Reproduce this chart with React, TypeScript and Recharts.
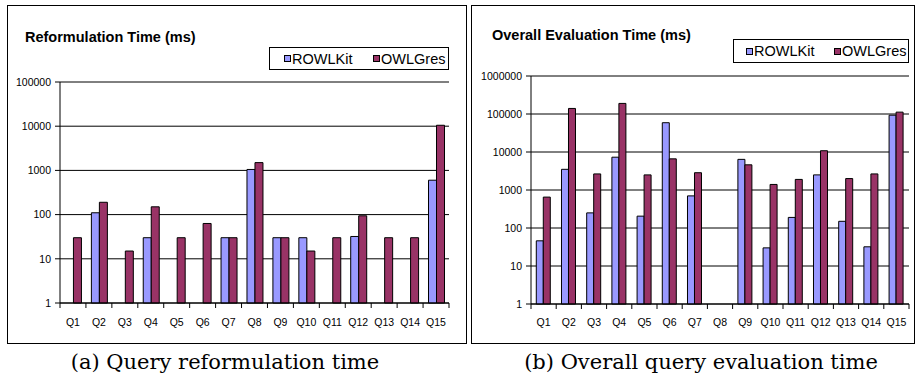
import React from 'react';
import { BarChart, Bar, XAxis, YAxis, CartesianGrid } from 'recharts';

const queries = ['Q1', 'Q2', 'Q3', 'Q4', 'Q5', 'Q6', 'Q7', 'Q8', 'Q9', 'Q10', 'Q11', 'Q12', 'Q13', 'Q14', 'Q15'];

// reformulation time (ms), null = no bar
const reformRowlkit = [null, 110, null, 30, null, null, 30, 1050, 30, 30, null, 32, null, null, 600];
const reformOwlgres = [30, 190, 15, 150, 30, 63, 30, 1500, 30, 15, 30, 94, 30, 30, 10500];

// overall evaluation time (ms)
const evalRowlkit = [46, 3500, 250, 7300, 205, 59000, 700, null, 6400, 30, 190, 2500, 150, 32, 93000];
const evalOwlgres = [650, 140000, 2650, 190000, 2500, 6600, 2850, null, 4600, 1400, 1900, 10800, 2000, 2650, 112000];

const reformTicks = [1, 10, 100, 1000, 10000, 100000];
const evalTicks = [1, 10, 100, 1000, 10000, 100000, 1000000];

const series = [
  { key: 'rowlkit', name: 'ROWLKit', color: '#9999FF' },
  { key: 'owlgres', name: 'OWLGres', color: '#993366' },
];

const toRows = (a: (number | null)[], b: (number | null)[]) =>
  queries.map((q, i) => ({ q, rowlkit: a[i], owlgres: b[i] }));

const FONT = '"Liberation Sans", Arial, sans-serif';

const QTick = (props: any) => {
  const { x, y, payload, index, band, gap } = props;
  const last = index === queries.length - 1;
  return (
    <g>
      <line x1={x - band / 2} x2={x - band / 2} y1={y} y2={y + 5} stroke="#000" />
      {last && <line x1={x + band / 2} x2={x + band / 2} y1={y} y2={y + 5} stroke="#000" />}
      <text x={x} y={y + gap} textAnchor="middle" fontSize={10.5} fontFamily={FONT} fill="#000">
        {payload.value}
      </text>
    </g>
  );
};

const LegendBox = ({ left, top, width, height, slots }: any) => (
  <div style={{ position: 'absolute', left, top, width, height, border: '1px solid #000', boxSizing: 'border-box', background: '#fff' }}>
    {series.map((s, i) => (
      <div key={s.key} style={{ position: 'absolute', left: slots[i], top: 0, height: height - 2, display: 'flex', alignItems: 'center' }}>
        <span style={{ width: 7, height: 7, background: s.color, border: '1px solid #000', boxSizing: 'border-box', marginRight: 1 }} />
        <span style={{ fontFamily: FONT, fontSize: 14.5, color: '#000', lineHeight: '16px' }}>{s.name}</span>
      </div>
    ))}
  </div>
);

const LogBars = ({ data, ticks, left, top, width, height, margin, yWidth, gap }: any) => {
  const band = (width - margin.left - margin.right - yWidth) / queries.length;
  return (
    <div style={{ position: 'absolute', left, top }}>
      <BarChart width={width} height={height} data={data} margin={margin} barCategoryGap="21%" barGap={0}>
        <CartesianGrid vertical={false} stroke="#000" />
        <XAxis
          dataKey="q"
          height={30}
          tickSize={0}
          tickMargin={0}
          tickLine={false}
          axisLine={{ stroke: '#000' }}
          interval={0}
          tick={(p: any) => <QTick {...p} band={band} gap={gap} />}
        />
        <YAxis
          scale="log"
          domain={[ticks[0], ticks[ticks.length - 1]]}
          ticks={ticks}
          interval={0}
          width={yWidth}
          tickSize={5}
          tickMargin={4}
          axisLine={{ stroke: '#000' }}
          tickLine={{ stroke: '#000' }}
          tick={{ fontSize: 10.5, fontFamily: FONT, fill: '#000' }}
        />
        <YAxis yAxisId="edge" orientation="right" width={0} domain={[0, 1]} tick={false} tickLine={false} axisLine={{ stroke: '#909090' }} />
        {series.map((s) => (
          <Bar key={s.key} dataKey={s.key} name={s.name} fill={s.color} stroke="#000" strokeWidth={1} isAnimationActive={false} />
        ))}
      </BarChart>
    </div>
  );
};

const panel: React.CSSProperties = { position: 'absolute', top: 5, height: 339, border: '1px solid #000', boxSizing: 'border-box' };
const title: React.CSSProperties = { position: 'absolute', fontFamily: FONT, fontSize: 14.5, fontWeight: 'bold', color: '#000', lineHeight: '16px', whiteSpace: 'nowrap' };
const caption: React.CSSProperties = { position: 'absolute', top: 349, width: 440, textAlign: 'center', fontFamily: '"DejaVu Serif", serif', fontSize: 21, lineHeight: '26px', color: '#000', whiteSpace: 'nowrap' };

export default function App() {
  return (
    <div style={{ position: 'absolute', left: 0, top: 0, width: 919, height: 381, background: '#fff', overflow: 'hidden' }}>
      <div style={{ ...panel, left: 7, width: 460 }} />
      <div style={{ ...panel, left: 471, width: 444 }} />

      <div style={{ ...title, left: 25, top: 29 }}>Reformulation Time (ms)</div>
      <div style={{ ...title, left: 492, top: 27 }}>Overall Evaluation Time (ms)</div>

      <LogBars
        data={toRows(reformRowlkit, reformOwlgres)}
        ticks={reformTicks}
        left={0}
        top={60}
        width={460}
        height={290}
        margin={{ top: 22, right: 11, bottom: 17, left: 10 }}
        yWidth={50}
        gap={23}
      />
      <LogBars
        data={toRows(evalRowlkit, evalOwlgres)}
        ticks={evalTicks}
        left={460}
        top={60}
        width={459}
        height={290}
        margin={{ top: 16, right: 10, bottom: 16, left: 16 }}
        yWidth={55}
        gap={22}
      />

      <LegendBox left={269} top={47} width={180} height={23} slots={[14, 103]} />
      <LegendBox left={733} top={39} width={176} height={24} slots={[12, 100]} />

      <div style={{ ...caption, left: 5 }}>(a) Query reformulation time</div>
      <div style={{ ...caption, left: 481 }}>(b) Overall query evaluation time</div>
    </div>
  );
}
